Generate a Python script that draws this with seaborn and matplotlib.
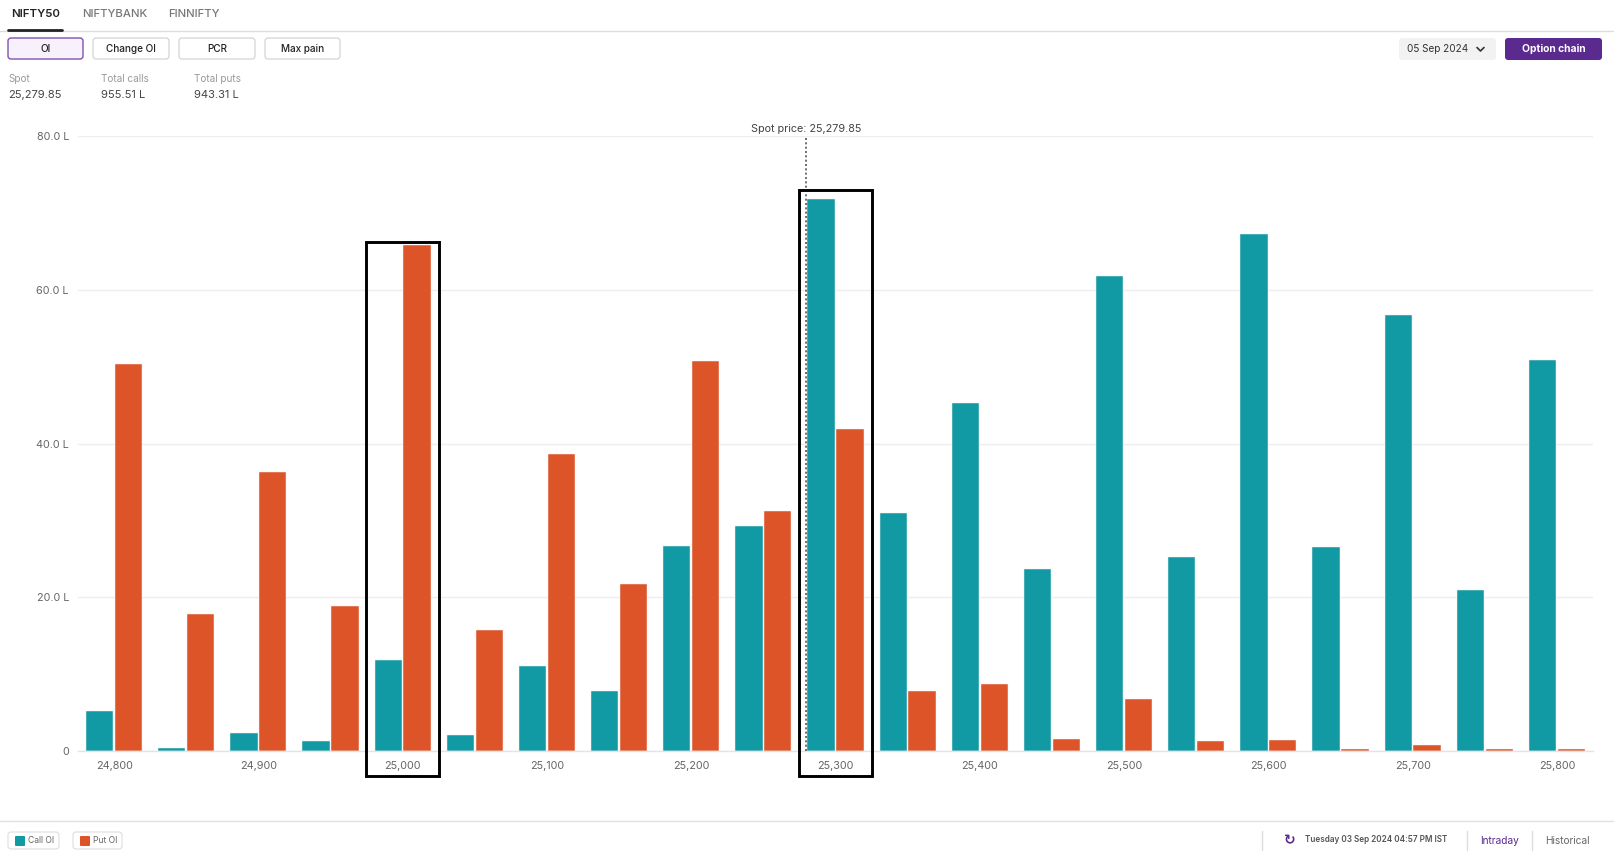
import numpy as np
import pandas as pd
import matplotlib
matplotlib.use("Agg")
import matplotlib.pyplot as plt
import seaborn as sns
from matplotlib.patches import FancyBboxPatch, Rectangle
from matplotlib.lines import Line2D

# ---------------- data ----------------
strikes = [24800, 24850, 24900, 24950, 25000, 25050, 25100, 25150, 25200, 25250,
           25300, 25350, 25400, 25450, 25500, 25550, 25600, 25650, 25700, 25750, 25800]
call_oi = [5.2, 0.35, 2.3, 1.3, 11.9, 2.1, 11.1, 7.8, 26.7, 29.3,
           71.8, 31.0, 45.3, 23.7, 61.8, 25.2, 67.3, 26.5, 56.7, 21.0, 50.8]
put_oi = [50.4, 17.8, 36.3, 18.9, 65.8, 15.8, 38.6, 21.7, 50.7, 31.2,
          41.9, 7.8, 8.7, 1.6, 6.8, 1.3, 1.4, 0.25, 0.8, 0.2, 0.25]
tick_strikes = strikes[::2]
y_ticks = [0, 20, 40, 60, 80]
y_tick_labels = ["0", "20.0 L", "40.0 L", "60.0 L", "80.0 L"]
spot = 25279.85
total_calls = "955.51 L"
total_puts = "943.31 L"
highlight_strikes = [25000, 25300]
highlight_tops = [66.2, 73.0]
tabs = ["NIFTY50", "NIFTYBANK", "FINNIFTY"]
buttons = ["OI", "Change OI", "PCR", "Max pain"]
series_names = ["Call OI", "Put OI"]

TEAL = "#1199A4"
ORANGE = "#DE5429"
PURPLE = "#5A2A8F"

sns.set_theme(style="white")
plt.rcParams['font.family'] = ['Inter', 'DejaVu Sans']

W, H = 1615, 860
fig = plt.figure(figsize=(W / 100, H / 100), dpi=100)
fig.patch.set_facecolor("white")

# overlay in pixel coords (top-left origin)
ov = fig.add_axes([0, 0, 1, 1])
ov.set_xlim(0, W)
ov.set_ylim(H, 0)
ov.axis("off")

ax = fig.add_axes([78 / W, 1 - 751 / H, (1593 - 78) / W, (751 - 136) / H])
ax.patch.set_alpha(0)

n = len(strikes)
df = pd.DataFrame({
    "strike": strikes * 2,
    "oi": call_oi + put_oi,
    "type": [series_names[0]] * n + [series_names[1]] * n,
})
sns.barplot(data=df, x="strike", y="oi", hue="type", order=strikes,
            hue_order=series_names,
            palette={series_names[0]: TEAL, series_names[1]: ORANGE},
            width=0.8, gap=0.05, saturation=1, errorbar=None, legend=False,
            edgecolor="#F2F2F2", linewidth=0.35, ax=ax)

ax.set_xlim(-0.5, n - 0.5)
ax.set_ylim(0, 80)
ax.set_xlabel("")
ax.set_ylabel("")
ax.set_xticks([strikes.index(s) for s in tick_strikes])
ax.set_xticklabels([f"{s:,}" for s in tick_strikes])
ax.set_yticks(y_ticks)
ax.set_yticklabels(y_tick_labels)
ax.yaxis.grid(True, color="#EEEEEE", lw=1)
ax.set_axisbelow(True)
for s in ["left", "right", "top"]:
    ax.spines[s].set_visible(False)
ax.spines["bottom"].set_color("#E4E4E4")
ax.spines["bottom"].set_linewidth(1)
ax.tick_params(axis="x", length=4, width=1, color="#BBBBBB", labelcolor="#666666",
               labelsize=7.8, pad=3.5)
ax.tick_params(axis="y", length=0, labelcolor="#666666", labelsize=7.8, pad=6.5)

# spot price line
spot_pos = (spot - strikes[0]) / (strikes[1] - strikes[0])
ax.plot([spot_pos, spot_pos], [0, 79.8], color="#555555", lw=1.2,
        dashes=(1.2, 1.4), zorder=5)
ax.text(spot_pos, 80.95, f"Spot price: {spot:,.2f}", ha="center", va="center",
        fontsize=7.8, color="#444444")

# highlight boxes
for s, top in zip(highlight_strikes, highlight_tops):
    i = strikes.index(s)
    ax.add_patch(Rectangle((i - 0.51, -3.25), 1.02, top + 3.25, fill=False,
                           ec="black", lw=2.1, clip_on=False, zorder=6))

# ---------------- header ----------------
def rbox(x0, y0, x1, y1, fc, ec="none", lw=0.8, r=3):
    ov.add_patch(FancyBboxPatch((x0, y0), x1 - x0, y1 - y0,
                                boxstyle=f"round,pad=0,rounding_size={r}",
                                fc=fc, ec=ec, lw=lw))

ov.text(11, 14, tabs[0], fontsize=8.2, weight="semibold", color="#222222", va="center")
ov.text(82, 14, tabs[1], fontsize=8.2, weight="medium", color="#777777", va="center")
ov.text(168, 14, tabs[2], fontsize=8.2, weight="medium", color="#777777", va="center")
ov.add_line(Line2D([0, W], [30.5, 30.5], color="#DDDDDD", lw=1))
ov.add_line(Line2D([8, 62], [29.5, 29.5], color="#222222", lw=2))

btn_x = [(8, 83), (93, 169), (179, 255), (265, 340)]
for k, (label, (x0, x1)) in enumerate(zip(buttons, btn_x)):
    if k == 0:
        rbox(x0, 38, x1, 59, fc="#F7F1FC", ec="#7D52B3", lw=1)
    else:
        rbox(x0, 38, x1, 59, fc="white", ec="#CFCFCF", lw=0.8)
    ov.text((x0 + x1) / 2, 48.5, label, fontsize=7.2, weight="medium",
            color="#222222", ha="center", va="center")

stats = [("Spot", f"{spot:,.2f}", 8), ("Total calls", total_calls, 101),
         ("Total puts", total_puts, 194)]
for lab, val, x in stats:
    ov.text(x, 79, lab, fontsize=7.2, color="#9A9A9A", va="center")
    ov.text(x, 95, val, fontsize=8, color="#444444", va="center")

rbox(1399, 38, 1496, 60, fc="#F2F2F2")
ov.text(1407, 49, "05 Sep 2024", fontsize=7.2, color="#333333", va="center")
ov.add_line(Line2D([1477, 1480.5, 1484], [47.5, 51, 47.5], color="#333333", lw=1.2))
rbox(1505, 38, 1602, 60, fc=PURPLE)
ov.text(1553.5, 49, "Option chain", fontsize=7.4, weight="bold", color="white",
        ha="center", va="center")

# ---------------- footer ----------------
ov.add_line(Line2D([0, W], [821, 821], color="#E0E0E0", lw=1))
for name, col, (x0, x1) in zip(series_names, [TEAL, ORANGE], [(8, 59), (73, 122)]):
    rbox(x0, 832, x1, 849, fc="white", ec="#DDDDDD", lw=0.8)
    rbox(x0 + 7, 836, x0 + 17, 846, fc=col, r=1)
    ov.text(x0 + 20, 840.5, name, fontsize=6.2, color="#666666", va="center")

for x in [1262, 1467, 1532]:
    ov.add_line(Line2D([x, x], [831, 850], color="#DDDDDD", lw=1))
ov.text(1290, 840, "\u21bb", fontsize=10, color=PURPLE, ha="center", va="center",
        family=["DejaVu Sans"], weight="bold")
ov.text(1305, 840, "Tuesday 03 Sep 2024 04:57 PM IST", fontsize=5.9,
        weight="semibold", color="#555555", va="center")
ov.text(1480, 840.5, "Intraday", fontsize=7.3, color=PURPLE, va="center")
ov.text(1545, 840.5, "Historical", fontsize=7.3, color="#666666", va="center")

fig.savefig("out.png", dpi=100, facecolor="white")
